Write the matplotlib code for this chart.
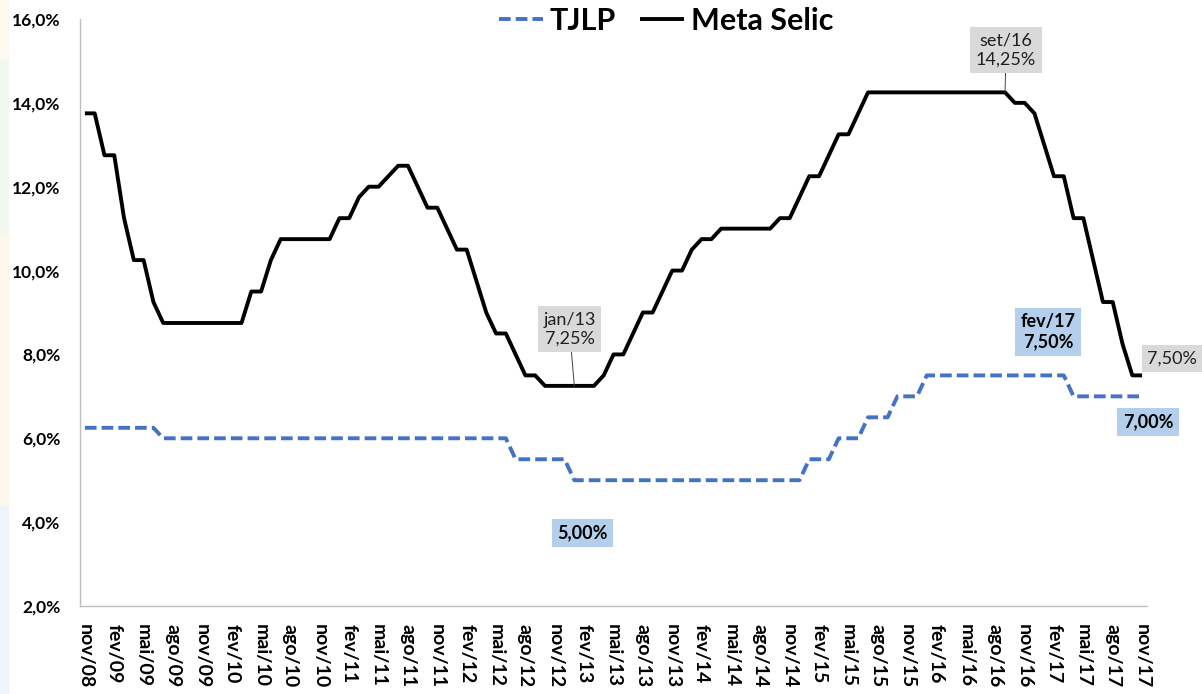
import matplotlib
matplotlib.use("Agg")
import matplotlib.pyplot as plt
from matplotlib.patches import Rectangle
import numpy as np

plt.rcParams['font.family'] = ['Lato', 'DejaVu Sans']

# ---- data (monthly, nov/08 .. nov/17) ----
selic = [13.75, 13.75, 12.75, 12.75, 11.25, 10.25, 10.25, 9.25,
         8.75, 8.75, 8.75, 8.75, 8.75, 8.75, 8.75, 8.75, 8.75,
         9.50, 9.50, 10.25,
         10.75, 10.75, 10.75, 10.75, 10.75, 10.75,
         11.25, 11.25, 11.75, 12.00, 12.00, 12.25, 12.50, 12.50,
         12.00, 11.50, 11.50, 11.00, 10.50, 10.50, 9.75, 9.00,
         8.50, 8.50, 8.00, 7.50, 7.50,
         7.25, 7.25, 7.25, 7.25, 7.25, 7.25,
         7.50, 8.00, 8.00, 8.50, 9.00, 9.00, 9.50, 10.00, 10.00,
         10.50, 10.75, 10.75,
         11.00, 11.00, 11.00, 11.00, 11.00, 11.00,
         11.25, 11.25, 11.75, 12.25, 12.25, 12.75, 13.25, 13.25, 13.75,
         14.25, 14.25, 14.25, 14.25, 14.25, 14.25, 14.25, 14.25,
         14.25, 14.25, 14.25, 14.25, 14.25, 14.25, 14.25,
         14.00, 14.00, 13.75, 13.00, 12.25, 12.25, 11.25, 11.25,
         10.25, 9.25, 9.25, 8.25, 7.50, 7.50]

tjlp = [6.25, 6.25, 6.25, 6.25, 6.25, 6.25, 6.25, 6.25,
        6.00, 6.00, 6.00, 6.00, 6.00, 6.00, 6.00, 6.00, 6.00,
        6.00, 6.00, 6.00, 6.00, 6.00, 6.00, 6.00, 6.00, 6.00,
        6.00, 6.00, 6.00, 6.00, 6.00, 6.00, 6.00, 6.00, 6.00,
        6.00, 6.00, 6.00, 6.00, 6.00, 6.00, 6.00, 6.00, 6.00,
        5.50, 5.50, 5.50, 5.50, 5.50, 5.50,
        5.00, 5.00, 5.00, 5.00, 5.00, 5.00, 5.00, 5.00, 5.00,
        5.00, 5.00, 5.00, 5.00, 5.00, 5.00, 5.00, 5.00, 5.00,
        5.00, 5.00, 5.00, 5.00, 5.00, 5.00,
        5.50, 5.50, 5.50, 6.00, 6.00, 6.00, 6.50, 6.50, 6.50,
        7.00, 7.00, 7.00,
        7.50, 7.50, 7.50, 7.50, 7.50, 7.50, 7.50, 7.50,
        7.50, 7.50, 7.50, 7.50, 7.50, 7.50, 7.50,
        7.00, 7.00, 7.00, 7.00, 7.00, 7.00, 7.00, 7.00]

tick_labels = ['nov/08', 'fev/09', 'mai/09', 'ago/09', 'nov/09', 'fev/10',
               'mai/10', 'ago/10', 'nov/10', 'fev/11', 'mai/11', 'ago/11',
               'nov/11', 'fev/12', 'mai/12', 'ago/12', 'nov/12', 'fev/13',
               'mai/13', 'ago/13', 'nov/13', 'fev/14', 'mai/14', 'ago/14',
               'nov/14', 'fev/15', 'mai/15', 'ago/15', 'nov/15', 'fev/16',
               'mai/16', 'ago/16', 'nov/16', 'fev/17', 'mai/17', 'ago/17',
               'nov/17']
y_ticks = [2, 4, 6, 8, 10, 12, 14, 16]

GRAY_BOX = '#d9d9d9'
BLUE_BOX = '#b4cfeb'

W, H = 1202, 694
fig = plt.figure(figsize=(W / 100, H / 100), dpi=100)
fig.patch.set_facecolor('white')

# faint slide-background strip on the far left
for y0, y1, c in [(0, 60, '#fdf9ee'), (60, 235, '#f2f7f0'),
                  (235, 505, '#fdf8ea'), (505, 694, '#eef4fa')]:
    fig.patches.append(Rectangle((0, 1 - y1 / H), 8 / W, (y1 - y0) / H,
                                 transform=fig.transFigure, color=c, zorder=0))

ax = fig.add_axes([80 / W, 1 - 606 / H, 1067 / W, (606 - 19) / H])

x = np.arange(len(selic))
l1, = ax.plot(x, tjlp, color='#4472c4', lw=2.8, dashes=(3.0, 1.3),
              dash_capstyle='butt', label='TJLP')
l2, = ax.plot(x, selic, color='black', lw=2.8, solid_joinstyle='round',
              solid_capstyle='butt', label='Meta Selic')

ax.set_xlim(-0.5, len(selic) - 0.5)
ax.set_ylim(2, 16)

ax.set_yticks(y_ticks)
ax.set_yticklabels([f'{v:.1f}%'.replace('.', ',') for v in y_ticks],
                   fontsize=12.5, fontweight='bold')
ax.set_xticks(x[::3])
ax.set_xticklabels(tick_labels, rotation=-90, fontsize=14, fontweight='bold',
                   ha='center', va='top')
ax.tick_params(axis='both', length=0)
ax.tick_params(axis='y', pad=14)
ax.tick_params(axis='x', pad=13)

for s in ['top', 'right']:
    ax.spines[s].set_visible(False)
for s in ['left', 'bottom']:
    ax.spines[s].set_color('#bfbfbf')
    ax.spines[s].set_linewidth(1.0)

# legend
fig.legend(handles=[l1, l2], loc='center', bbox_to_anchor=(666 / W, 1 - 21 / H),
           ncol=2, frameon=False, prop={'weight': 'bold', 'size': 22},
           handlelength=1.45, handletextpad=0.2, columnspacing=0.8)

# annotations
lead = dict(arrowstyle='-', color='#404040', lw=0.7, shrinkA=0, shrinkB=0)
ax.annotate('jan/13\n7,25%', xy=(50, 7.25), xytext=(49.5, 8.61),
            ha='center', va='center', fontsize=13, color='#202020',
            bbox=dict(boxstyle='square,pad=0.3', fc=GRAY_BOX, ec='none'),
            arrowprops=lead)
ax.annotate('set/16\n14,25%', xy=(94, 14.25), xytext=(94.1, 15.26),
            ha='center', va='center', fontsize=13, color='#202020',
            bbox=dict(boxstyle='square,pad=0.3', fc=GRAY_BOX, ec='none'),
            arrowprops=lead, annotation_clip=False)
ax.text(108.55, 7.9, '7,50%', ha='left', va='center', fontsize=13,
        color='#202020', clip_on=False,
        bbox=dict(boxstyle='square,pad=0.3', fc=GRAY_BOX, ec='none'))
ax.text(98.4, 8.54, 'fev/17\n7,50%', ha='center', va='center', fontsize=13,
        fontweight='bold', color='black',
        bbox=dict(boxstyle='square,pad=0.3', fc=BLUE_BOX, ec='none'))
ax.text(108.6, 6.39, '7,00%', ha='center', va='center', fontsize=13,
        fontweight='bold', color='black', clip_on=False,
        bbox=dict(boxstyle='square,pad=0.3', fc=BLUE_BOX, ec='none'))
ax.text(50.8, 3.75, '5,00%', ha='center', va='center', fontsize=13,
        fontweight='bold', color='black',
        bbox=dict(boxstyle='square,pad=0.3', fc=BLUE_BOX, ec='none'))

fig.savefig('out.png', dpi=100)
